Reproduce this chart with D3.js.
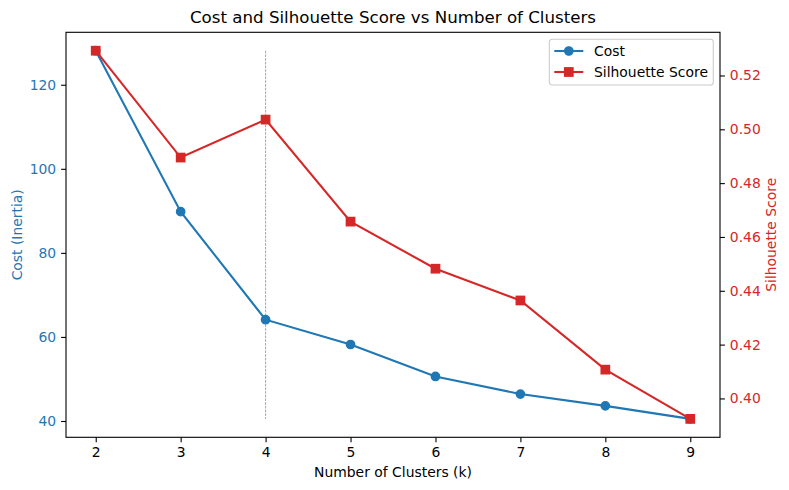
<!DOCTYPE html>
<html>
<head>
  <script src="https://d3js.org/d3.v7.min.js"></script>
  <style>
    body { margin: 0; background: #fff; }
    text { font-family: "DejaVu Sans", sans-serif; }
    .tick text { font-size: 13.9px; }
  </style>
</head>
<body>
  <div id="chart"></div>
  <script>
    // data
    const clusters = [2, 3, 4, 5, 6, 7, 8, 9];
    const cost = [128.1, 89.8, 64.1, 58.2, 50.6, 46.4, 43.6, 40.5];
    const silhouette = [0.5292, 0.4895, 0.5036, 0.4657, 0.4482, 0.4364, 0.4107, 0.3924];
    const costTicks = [40, 60, 80, 100, 120];
    const silTicks = [0.40, 0.42, 0.44, 0.46, 0.48, 0.50, 0.52];
    const markedK = 4;

    const width = 789, height = 490;
    const margin = {top: 32.3, left: 66, right: 69, bottom: 52.7};
    const blue = "#1f77b4", red = "#d62728";

    const svg = d3.select("#chart").append("svg")
      .attr("width", width)
      .attr("height", height);

    // matplotlib style 5% padding on each side
    function padded(ext) {
      const p = (ext[1] - ext[0]) * 0.05;
      return [ext[0] - p, ext[1] + p];
    }

    const x = d3.scaleLinear()
      .domain(padded(d3.extent(clusters)))
      .range([margin.left, width - margin.right]);
    const yCost = d3.scaleLinear()
      .domain(padded(d3.extent(cost)))
      .range([height - margin.bottom, margin.top]);
    const ySil = d3.scaleLinear()
      .domain(padded(d3.extent(silhouette)))
      .range([height - margin.bottom, margin.top]);

    /* AXES */
    const xAxis = svg.append("g")
      .attr("transform", `translate(0,${height - margin.bottom})`)
      .call(d3.axisBottom(x).tickValues(clusters).tickFormat(d3.format("d")).tickSize(4.9).tickPadding(4.9));

    const leftAxis = svg.append("g")
      .attr("transform", `translate(${margin.left},0)`)
      .call(d3.axisLeft(yCost).tickValues(costTicks).tickSize(4.9).tickPadding(4.9));
    leftAxis.selectAll(".tick text").attr("fill", blue);

    const rightAxis = svg.append("g")
      .attr("transform", `translate(${width - margin.right},0)`)
      .call(d3.axisRight(ySil).tickValues(silTicks).tickFormat(d3.format(".2f")).tickSize(4.9).tickPadding(4.9));
    rightAxis.selectAll(".tick text").attr("fill", red);

    [xAxis, leftAxis, rightAxis].forEach(function(a) {
      a.select(".domain").remove();
      a.selectAll(".tick line").attr("stroke", "#000").attr("stroke-width", 1.1);
    });

    // frame
    svg.append("rect")
      .attr("x", margin.left)
      .attr("y", margin.top)
      .attr("width", width - margin.left - margin.right)
      .attr("height", height - margin.top - margin.bottom)
      .attr("fill", "none")
      .attr("stroke", "#000")
      .attr("stroke-width", 1.1);

    /* LABELS */
    svg.append("text")
      .attr("x", (margin.left + width - margin.right) / 2)
      .attr("y", 23.3)
      .attr("text-anchor", "middle")
      .style("font-size", "16.67px")
      .text("Cost and Silhouette Score vs Number of Clusters");

    svg.append("text")
      .attr("x", (margin.left + width - margin.right) / 2)
      .attr("y", 476.7)
      .attr("text-anchor", "middle")
      .style("font-size", "13.9px")
      .text("Number of Clusters (k)");

    const midY = (margin.top + height - margin.bottom) / 2;
    svg.append("text")
      .attr("transform", `translate(21.5,${midY}) rotate(-90)`)
      .attr("text-anchor", "middle")
      .attr("fill", blue)
      .style("font-size", "13.9px")
      .text("Cost (Inertia)");

    svg.append("text")
      .attr("transform", `translate(776,${midY}) rotate(-90)`)
      .attr("text-anchor", "middle")
      .attr("fill", red)
      .style("font-size", "13.9px")
      .text("Silhouette Score");

    /* MARKED K */
    svg.append("line")
      .attr("x1", x(markedK)).attr("x2", x(markedK))
      .attr("y1", yCost(d3.max(cost))).attr("y2", yCost(d3.min(cost)))
      .attr("stroke", "#808080")
      .attr("stroke-width", 0.7)
      .attr("stroke-dasharray", "2.6,1.1");

    /* COST SERIES */
    const costData = clusters.map(function(k, i) { return {k: k, v: cost[i]}; });
    svg.append("path")
      .datum(costData)
      .attr("fill", "none")
      .attr("stroke", blue)
      .attr("stroke-width", 2.08)
      .attr("d", d3.line().x(function(d) { return x(d.k); }).y(function(d) { return yCost(d.v); }));
    svg.selectAll(".costDot")
      .data(costData)
      .enter()
      .append("circle")
        .attr("class", "costDot")
        .attr("cx", function(d) { return x(d.k); })
        .attr("cy", function(d) { return yCost(d.v); })
        .attr("r", 4.17)
        .attr("fill", blue)
        .attr("stroke", blue)
        .attr("stroke-width", 1.39);

    /* SILHOUETTE SERIES */
    const silData = clusters.map(function(k, i) { return {k: k, v: silhouette[i]}; });
    svg.append("path")
      .datum(silData)
      .attr("fill", "none")
      .attr("stroke", red)
      .attr("stroke-width", 2.08)
      .attr("d", d3.line().x(function(d) { return x(d.k); }).y(function(d) { return ySil(d.v); }));
    svg.selectAll(".silDot")
      .data(silData)
      .enter()
      .append("rect")
        .attr("class", "silDot")
        .attr("x", function(d) { return x(d.k) - 4.17; })
        .attr("y", function(d) { return ySil(d.v) - 4.17; })
        .attr("width", 8.34)
        .attr("height", 8.34)
        .attr("fill", red)
        .attr("stroke", red)
        .attr("stroke-width", 1.39);

    /* LEGEND */
    const legend = svg.append("g").attr("transform", "translate(549.3,39.3)");
    legend.append("rect")
      .attr("width", 164)
      .attr("height", 45.7)
      .attr("rx", 2.8)
      .attr("fill", "#fff")
      .attr("fill-opacity", 0.8)
      .attr("stroke", "#cccccc")
      .attr("stroke-width", 1.1);

    const entries = [
      {name: "Cost", color: blue, shape: "circle"},
      {name: "Silhouette Score", color: red, shape: "square"}
    ];
    entries.forEach(function(e, i) {
      const g = legend.append("g").attr("transform", `translate(0,${11.7 + i * 21})`);
      g.append("line")
        .attr("x1", 5).attr("x2", 34)
        .attr("stroke", e.color)
        .attr("stroke-width", 2.08);
      if (e.shape === "circle") {
        g.append("circle").attr("cx", 19.5).attr("r", 4.17)
          .attr("fill", e.color).attr("stroke", e.color).attr("stroke-width", 1.39);
      } else {
        g.append("rect").attr("x", 15.33).attr("y", -4.17).attr("width", 8.34).attr("height", 8.34)
          .attr("fill", e.color).attr("stroke", e.color).attr("stroke-width", 1.39);
      }
      g.append("text")
        .attr("x", 44.7)
        .attr("y", 4.9)
        .style("font-size", "13.9px")
        .text(e.name);
    });
  </script>
</body>
</html>
